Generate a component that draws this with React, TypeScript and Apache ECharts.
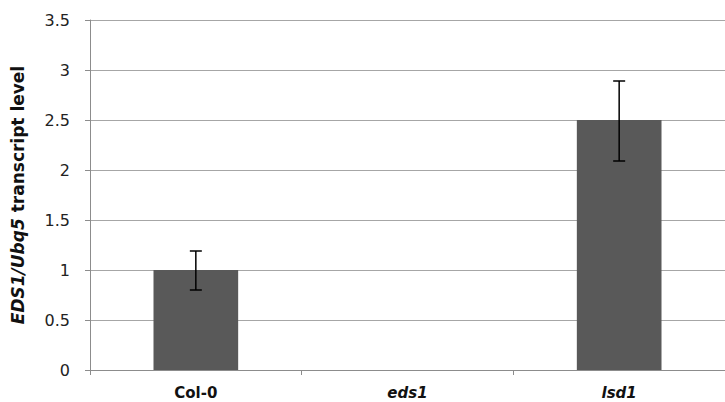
import React, { useEffect, useRef } from "react";
import * as echarts from "echarts";

const categories = ["Col-0", "eds1", "lsd1"];
const italicCats = [false, true, true];
const values = [1.0, 0, 2.5];
const errLow = [0.8, 0, 2.09];
const errHigh = [1.19, 0, 2.89];
const yTicks = { min: 0, max: 3.5, interval: 0.5 };

const FONT = "DejaVu Sans, Liberation Sans, Arial, sans-serif";

export default function App() {
  const ref = useRef<HTMLDivElement>(null);
  useEffect(() => {
    const chart = echarts.init(ref.current!, null, { renderer: "svg" });
    const errData = categories
      .map((c, i) => [i, errLow[i], errHigh[i]])
      .filter((d, i) => errHigh[i] > 0);
    const bold = { fontWeight: "bold", fontSize: 15, fontFamily: FONT, color: "#111" };
    chart.setOption({
      animation: false,
      grid: { left: 90, top: 20, width: 637, bottom: 32 },
      xAxis: {
        type: "category",
        data: categories,
        axisLine: { lineStyle: { color: "#8c8c8c", width: 1 } },
        axisTick: { show: true, alignWithLabel: false, length: 5, lineStyle: { color: "#8c8c8c" } },
        axisLabel: {
          margin: 15,
          ...bold,
          formatter: (v: string) => {
            const i = categories.indexOf(v);
            return italicCats[i] ? `{i|${v}}` : `{n|${v}}`;
          },
          rich: {
            i: { ...bold, fontStyle: "italic" },
            n: { ...bold },
          },
        },
      },
      yAxis: {
        type: "value",
        min: yTicks.min,
        max: yTicks.max,
        interval: yTicks.interval,
        name: "{i|EDS1/Ubq5}{n| transcript level}",
        nameLocation: "middle",
        nameRotate: 90,
        nameGap: 64,
        nameTextStyle: {
          rich: {
            i: { ...bold, fontSize: 17, fontStyle: "italic" },
            n: { ...bold, fontSize: 17 },
          },
        },
        axisLine: { show: true, lineStyle: { color: "#8c8c8c", width: 1 } },
        axisTick: { show: true, length: 5, lineStyle: { color: "#8c8c8c" } },
        axisLabel: {
          margin: 20,
          fontFamily: FONT,
          fontSize: 16,
          color: "#222",
        },
        splitLine: { show: true, lineStyle: { color: "#a6a6a6", width: 1 } },
      },
      series: [
        {
          type: "bar",
          data: values,
          barWidth: "40%",
          itemStyle: { color: "#595959" },
          z: 2,
        },
        {
          type: "custom",
          data: errData,
          z: 3,
          renderItem: (params: any, api: any) => {
            const x = api.value(0);
            const lo = api.coord([x, api.value(1)]);
            const hi = api.coord([x, api.value(2)]);
            const cap = 6;
            const style = { stroke: "#000", lineWidth: 1.5 };
            return {
              type: "group",
              children: [
                { type: "line", shape: { x1: hi[0], y1: hi[1], x2: lo[0], y2: lo[1] }, style },
                { type: "line", shape: { x1: hi[0] - cap, y1: hi[1], x2: hi[0] + cap, y2: hi[1] }, style },
                { type: "line", shape: { x1: lo[0] - cap, y1: lo[1], x2: lo[0] + cap, y2: lo[1] }, style },
              ],
            };
          },
        },
      ],
    });
    return () => chart.dispose();
  }, []);
  return (
    <div
      ref={ref}
      style={{ position: "fixed", left: 0, top: 0, width: 725, height: 402, background: "#fff" }}
    />
  );
}
